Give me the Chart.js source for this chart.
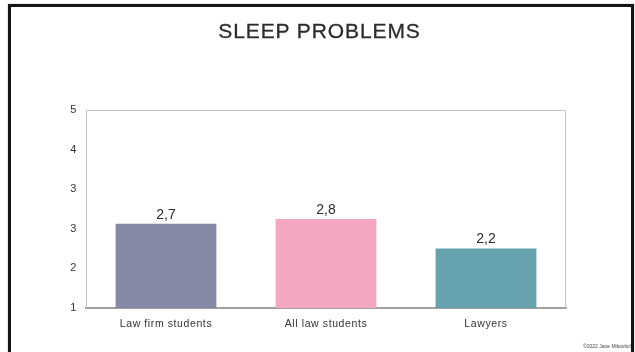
<!DOCTYPE html>
<html>
<head>
<meta charset="utf-8">
<title>Sleep problems</title>
<script src="https://cdn.jsdelivr.net/npm/chart.js@4/dist/chart.umd.min.js"></script>
<style>
    html, body { margin: 0; padding: 0; background: #fff; }
    #page { position: relative; width: 635px; height: 352px; overflow: hidden; }
    #frame {
        position: absolute; left: 8px; top: 4px; width: 620px; height: 400px;
        border: 3px solid #151515; box-shadow: 0 0 1px #777;
    }
    #title {
        position: absolute; left: 0; top: 19px; width: 639px; text-align: center;
        font-family: "Liberation Sans", Arial, sans-serif; font-size: 21px; color: #2b2b2b;
        letter-spacing: 0.9px; -webkit-text-stroke: 0.3px #2b2b2b;
    }
    #note {
        position: absolute; left: 583px; top: 343px; width: 48px; overflow: hidden; white-space: nowrap;
        font-family: "Liberation Sans", Arial, sans-serif; font-size: 5px; color: #444;
    }
    canvas { position: absolute; left: 0; top: 0; }
</style>
</head>
<body>
<div id="page">
    <canvas id="chart" width="635" height="352"></canvas>
    <div id="frame"></div>
    <div id="title">SLEEP PROBLEMS</div>
    <div id="note">©2022 Jane Mikovitch</div>
</div>
<script>
// 데이터
const categories = ['Law firm students', 'All law students', 'Lawyers'];
const sleepScores = [2.7, 2.8, 2.2];
const valueLabels = ['2,7', '2,8', '2,2'];
const barColors = ['#8589a6', '#f3a6bf', '#67a3ae'];
const yTickValues = [1, 1.8, 2.6, 3.4, 4.2, 5];
const yTickLabels = ['1', '2', '3', '3', '4', '5'];

// 플롯 영역 테두리
const frameBox = {
    id: 'frameBox',
    beforeDatasetsDraw(chart) {
        const { ctx, chartArea: a } = chart;
        ctx.save();
        ctx.strokeStyle = '#c4c4c4';
        ctx.lineWidth = 1;
        ctx.beginPath();
        ctx.moveTo(a.left + 0.5, a.bottom);
        ctx.lineTo(a.left + 0.5, a.top + 0.5);
        ctx.lineTo(a.right - 0.5, a.top + 0.5);
        ctx.lineTo(a.right - 0.5, a.bottom);
        ctx.stroke();
        ctx.restore();
    }
};

// 막대 위 값 표시
const barValues = {
    id: 'barValues',
    afterDatasetsDraw(chart) {
        const { ctx } = chart;
        const meta = chart.getDatasetMeta(0);
        ctx.save();
        ctx.letterSpacing = '0px';
        ctx.font = '14px "Liberation Sans", Arial, sans-serif';
        ctx.fillStyle = '#2b2b2b';
        ctx.textAlign = 'center';
        ctx.textBaseline = 'bottom';
        meta.data.forEach((bar, i) => {
            ctx.fillText(valueLabels[i], bar.x, bar.y - 2);
        });
        ctx.restore();
    }
};

// 축 글자 간격
const tickSpacing = {
    id: 'tickSpacing',
    beforeDraw(chart) {
        chart.ctx.letterSpacing = '0.6px';
    },
    afterDraw(chart) {
        chart.ctx.letterSpacing = '0px';
    }
};

const chart = new Chart(document.getElementById('chart'), {
    type: 'bar',
    data: {
        labels: categories,
        datasets: [{
            data: sleepScores,
            backgroundColor: barColors,
            borderWidth: 0,
            categoryPercentage: 1,
            barPercentage: 0.63
        }]
    },
    options: {
        responsive: false,
        animation: false,
        events: [],
        layout: { padding: { top: 110, left: 0, right: 69, bottom: 0 } },
        plugins: {
            legend: { display: false },
            tooltip: { enabled: false }
        },
        scales: {
            x: {
                grid: { display: false, drawTicks: false },
                border: { display: true, color: '#a0a0a0', width: 2 },
                ticks: {
                    padding: 10,
                    color: '#333',
                    font: { family: '"Liberation Sans", Arial, sans-serif', size: 10.5 }
                },
                afterFit(scale) { scale.height = 44; }
            },
            y: {
                min: 1,
                max: 5,
                grid: { display: false, drawTicks: false },
                border: { display: false },
                afterBuildTicks(scale) {
                    scale.ticks = yTickValues.map(v => ({ value: v }));
                },
                ticks: {
                    padding: 9,
                    color: '#333',
                    font: { family: '"Liberation Sans", Arial, sans-serif', size: 11 },
                    callback: (value, index) => yTickLabels[index]
                },
                afterFit(scale) { scale.width = 86; }
            }
        }
    },
    plugins: [tickSpacing, frameBox, barValues]
});
</script>
</body>
</html>
